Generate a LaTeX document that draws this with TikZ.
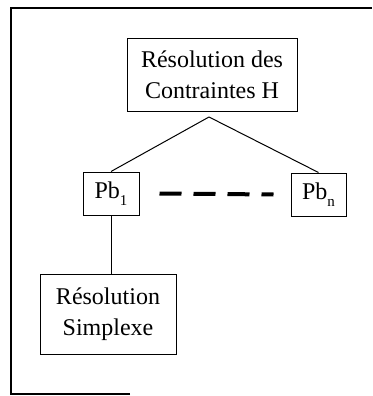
\documentclass[tikz,border=0pt]{standalone}
\usepackage{fontspec}
\setmainfont{Liberation Serif}
\newcommand{\mysub}[1]{\raisebox{-7pt}{\fontsize{15}{15}\selectfont #1}}
\begin{document}
\begin{tikzpicture}[x=1pt,y=-1pt,
  box/.style={draw,line width=1pt,rectangle,inner sep=0pt,align=center,
    font=\fontsize{24}{31}\selectfont},
  link/.style={line width=1pt}]
\useasboundingbox (0,0) rectangle (372,396);
\draw[line width=1.2pt] (130,394) -- (11,394) -- (11,8) -- (372,8);
\node[box,minimum width=170pt,minimum height=72pt] (top) at (212,75) {Résolution des\\Contraintes H};
\node[box,minimum width=56pt,minimum height=43pt] (pb1) at (111,193.5) {Pb\mysub{1}};
\node[box,minimum width=55pt,minimum height=43pt] (pbn) at (318.5,194.5) {Pb\mysub{n}};
\node[box,minimum width=136pt,minimum height=80pt] (simp) at (108,314) {Résolution\\Simplexe};
\coordinate (apex) at (209,117);
\draw[link] (apex) -- (pb1.north);
\draw[link] (apex) -- (pbn.north);
\draw[line width=4pt,dash pattern=on 22pt off 12pt] ([xshift=20pt]pb1.east) -- ([xshift=-17pt]pbn.west);
\draw[link] (pb1.south) -- (simp.north -| pb1.south);
\end{tikzpicture}
\end{document}
